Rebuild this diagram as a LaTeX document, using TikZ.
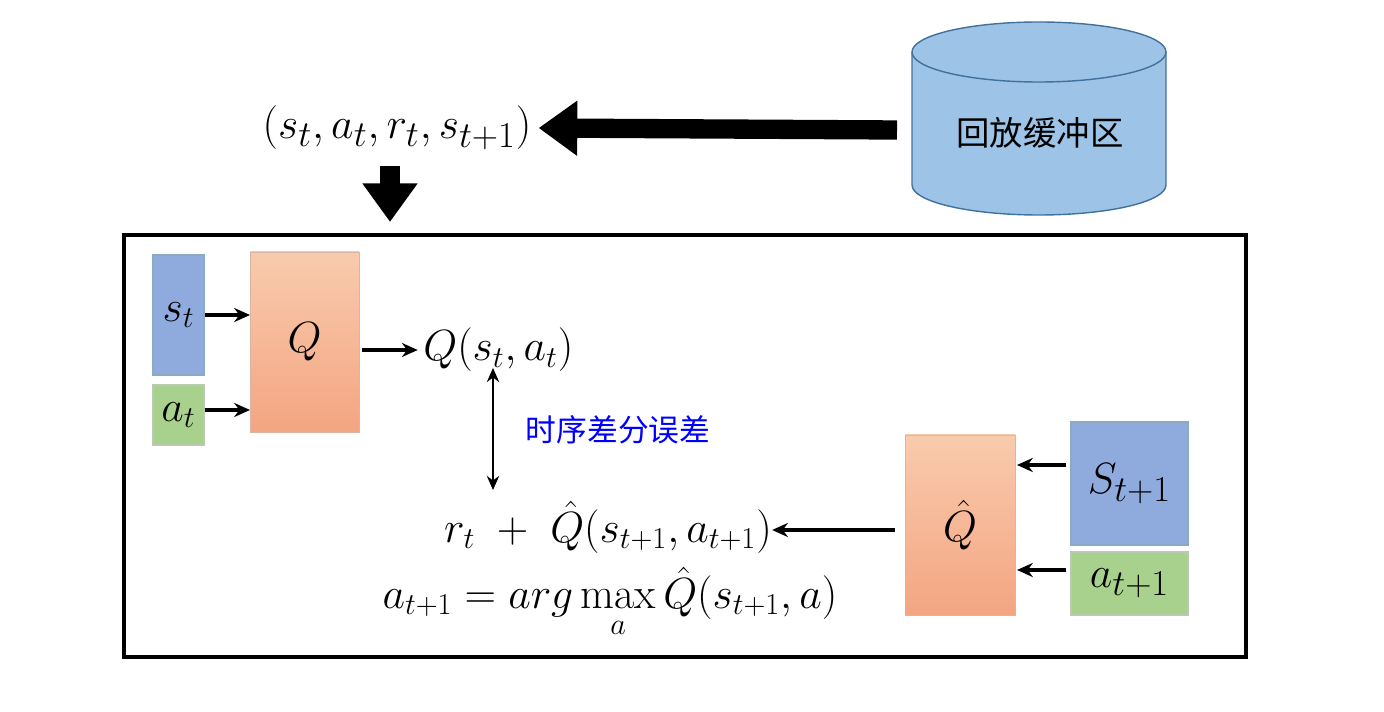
\documentclass[tikz,border=0pt]{standalone}
\usepackage{fontspec}
\usepackage{amsmath}
\newfontfamily\cjk{Noto Sans CJK SC}
\usetikzlibrary{shapes.geometric,arrows.meta}
\definecolor{cylf}{HTML}{9DC3E6}
\definecolor{cyld}{HTML}{41719C}
\definecolor{bluef}{HTML}{8FAADC}
\definecolor{greenf}{HTML}{A9D18E}
\definecolor{orT}{HTML}{F8CBAD}
\definecolor{orB}{HTML}{F4A582}
\begin{document}
\begin{tikzpicture}[x=0.02cm,y=-0.02cm,
  txt/.style={font=\fontsize{25}{30}\selectfont, inner sep=0pt},
  bbox/.style={draw=cyld!60, line width=0.6pt},
  arr/.style={-{Stealth[length=9pt,width=8pt]}, line width=1.8pt},
  fat/.style={line width=11pt,-{Triangle[length=22pt,width=30pt]}}]
\useasboundingbox (0,0) rectangle (1384,712);
% cylinder
\draw[draw=cyld, line width=0.8pt, fill=cylf] (912,52) -- (912,185) arc[start angle=180,end angle=360,x radius=127,y radius=-30] -- (1166,52) arc[start angle=0,end angle=180,x radius=127,y radius=-30] -- cycle;
\draw[draw=cyld, line width=0.8pt] (912,52) arc[start angle=180,end angle=360,x radius=127,y radius=-30];
\node[font=\cjk\fontsize{19}{22}\selectfont] (buft) at (1040,133) {回放缓冲区};
\node[font=\fontsize{30}{34}\selectfont, inner sep=0pt] (tup) at (397,128) {$(s_t,a_t,r_t,s_{t+1})$};
\coordinate (bl) at (897,130);
\draw[fat] (bl) -- ([xshift=4pt]tup.east);
\coordinate (d1) at (390,166);
\coordinate (d2) at (390,222);
\draw[fat] (d1) -- (d2);
% frame
\draw[line width=2.5pt] (124,235) rectangle (1246,657);
% left boxes
\node[bbox, fill=bluef, minimum width=51*0.02cm, minimum height=120*0.02cm, inner sep=0pt] (st) at (178.5,315) {};
\node[txt] at (st) {$s_t$};
\node[bbox, draw=greenf!70!black!50, fill=greenf, minimum width=51*0.02cm, minimum height=60*0.02cm, inner sep=0pt] (at) at (178.5,415) {};
\node[txt] at (at) {$a_t$};
\shade[top color=orT, bottom color=orB] (250,252) rectangle (359,432);
\draw[orB!80!black!60, line width=0.5pt] (250,252) rectangle (359,432);
\node[txt, minimum width=109*0.02cm, minimum height=180*0.02cm] (Q) at (304.5,342) {$Q$};
\coordinate (q1) at (250,315); \coordinate (q2) at (250,410);
\draw[arr] (st.east |- q1) -- (q1);
\draw[arr] (at.east |- q2) -- (q2);
\node[txt, anchor=west] (qsa) at (423,350) {$Q(s_t,a_t)$};
\coordinate (q3) at (362,350);
\draw[arr] (q3) -- ([xshift=-3pt]qsa.west);
% TD
\coordinate (v1) at (493,368); \coordinate (v2) at (493,490);
\draw[{Stealth[length=8pt,width=7pt]}-{Stealth[length=8pt,width=7pt]}, line width=1.5pt] (v1) -- (v2);
\node[font=\cjk\fontsize{17.5}{20}\selectfont, text=blue] (td) at (618,430) {时序差分误差};
\node[txt] (tgt) at (608,527) {$r_t\;+\;\hat{Q}(s_{t+1},a_{t+1})$};
\node[txt] (am) at (610,603) {$a_{t+1}=arg\max\limits_{a}\hat{Q}(s_{t+1},a)$};
% right boxes
\shade[top color=orT, bottom color=orB] (905,435) rectangle (1015,615);
\draw[orB!80!black!60, line width=0.5pt] (905,435) rectangle (1015,615);
\node[txt, minimum width=110*0.02cm, minimum height=180*0.02cm] (Qh) at (960,525) {$\hat{Q}$};
\node[bbox, fill=bluef, minimum width=117*0.02cm, minimum height=123*0.02cm, inner sep=0pt] (st1) at (1129.5,483.5) {};
\node[font=\fontsize{28}{32}\selectfont] at (st1) {$S_{t+1}$};
\node[bbox, draw=greenf!70!black!50, fill=greenf, minimum width=117*0.02cm, minimum height=63*0.02cm, inner sep=0pt] (at1) at (1129.5,583.5) {};
\node[font=\fontsize{28}{32}\selectfont] at (at1) {$a_{t+1}$};
\coordinate (r1) at (1017,465); \coordinate (r2) at (1017,570);
\draw[arr] (1066,465) -- (r1);
\draw[arr] (1066,570) -- (r2);
\coordinate (r3) at (895,530);
\draw[arr] (r3) -- (tgt.east |- r3);
\end{tikzpicture}
\end{document}
